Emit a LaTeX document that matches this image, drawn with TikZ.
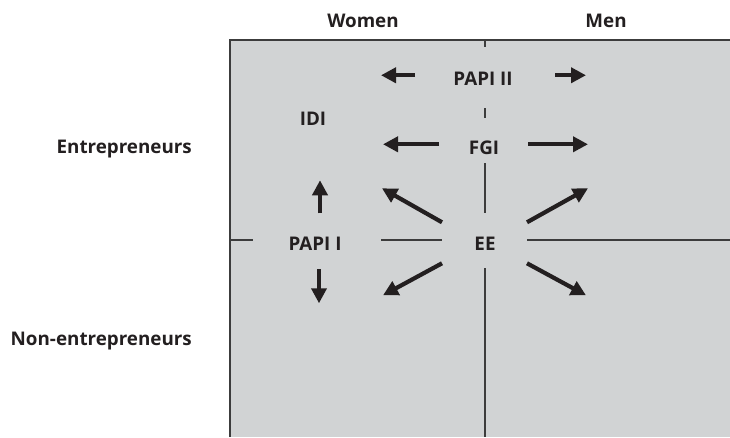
\documentclass[tikz,border=0pt]{standalone}
\usepackage{fontspec}
\setmainfont{Open Sans}
\usetikzlibrary{arrows.meta}
\definecolor{panelgray}{HTML}{D1D3D4}
\definecolor{inkblack}{HTML}{231F20}
\definecolor{axisgray}{HTML}{3C3C3C}

\begin{document}
\begin{tikzpicture}[x=1pt, y=-1pt,
  lbl/.style={font=\fontsize{18.8}{20}\selectfont\bfseries, text=inkblack, inner sep=0pt},
  axis/.style={draw=axisgray, line width=1.3pt},
  arr/.style={draw=inkblack, line width=4.2pt, -{Triangle[length=15pt,width=15pt]}}]
 \useasboundingbox (0,0) rectangle (730,437);
 \fill[panelgray] (230,40) rectangle (730,437);
 \draw[axisgray, line width=2.5pt] (230,437) -- (230,40) -- (730,40);

 \draw[axis] (485,40) -- (485,47);
 \draw[axis] (485,108) -- (485,118);
 \draw[axis] (485,163) -- (485,213);
 \draw[axis] (485,268) -- (485,437);
 \draw[axis] (230,240) -- (253,240);
 \draw[axis] (381,240) -- (442,240);
 \draw[axis] (527,240) -- (730,240);

 \node[lbl, anchor=base] (women) at (363,27) {Women};
 \node[lbl, anchor=base] (men) at (606,27) {Men};
 \node[lbl, anchor=base east] (entre) at (192,153) {Entrepreneurs};
 \node[lbl, anchor=base east] (nonentre) at (192,345) {Non-entrepreneurs};

 \node[lbl, anchor=base] (papiii) at (483,85) {PAPI II};
 \node[lbl, anchor=base] (idi) at (313,125) {IDI};
 \node[lbl, anchor=base] (fgi) at (484,154) {FGI};
 \node[lbl, anchor=base] (papii) at (315,250) {PAPI I};
 \node[lbl, anchor=base] (ee) at (485,250) {EE};

 \draw[arr] ([shift={(-68,-3)}]papiii.center) -- ([shift={(-102,-3)}]papiii.center);
 \draw[arr] ([shift={(72,-3)}]papiii.center) -- ([shift={(103,-3)}]papiii.center);
 \draw[arr] ([shift={(-45,-3)}]fgi.center) -- ([shift={(-101,-3)}]fgi.center);
 \draw[arr] ([shift={(44,-3)}]fgi.center) -- ([shift={(104,-3)}]fgi.center);
 \draw[arr] ([shift={(5,-30)}]papii.center) -- ([shift={(5,-63)}]papii.center);
 \draw[arr] ([shift={(4,26)}]papii.center) -- ([shift={(4,60)}]papii.center);
 \draw[arr] ([shift={(-43,-21)}]ee.center) -- ([shift={(-103,-55)}]ee.center);
 \draw[arr] ([shift={(42,-21)}]ee.center) -- ([shift={(103,-55)}]ee.center);
 \draw[arr] ([shift={(-43,20)}]ee.center) -- ([shift={(-102,52)}]ee.center);
 \draw[arr] ([shift={(42,20)}]ee.center) -- ([shift={(101,52)}]ee.center);
\end{tikzpicture}
\end{document}
